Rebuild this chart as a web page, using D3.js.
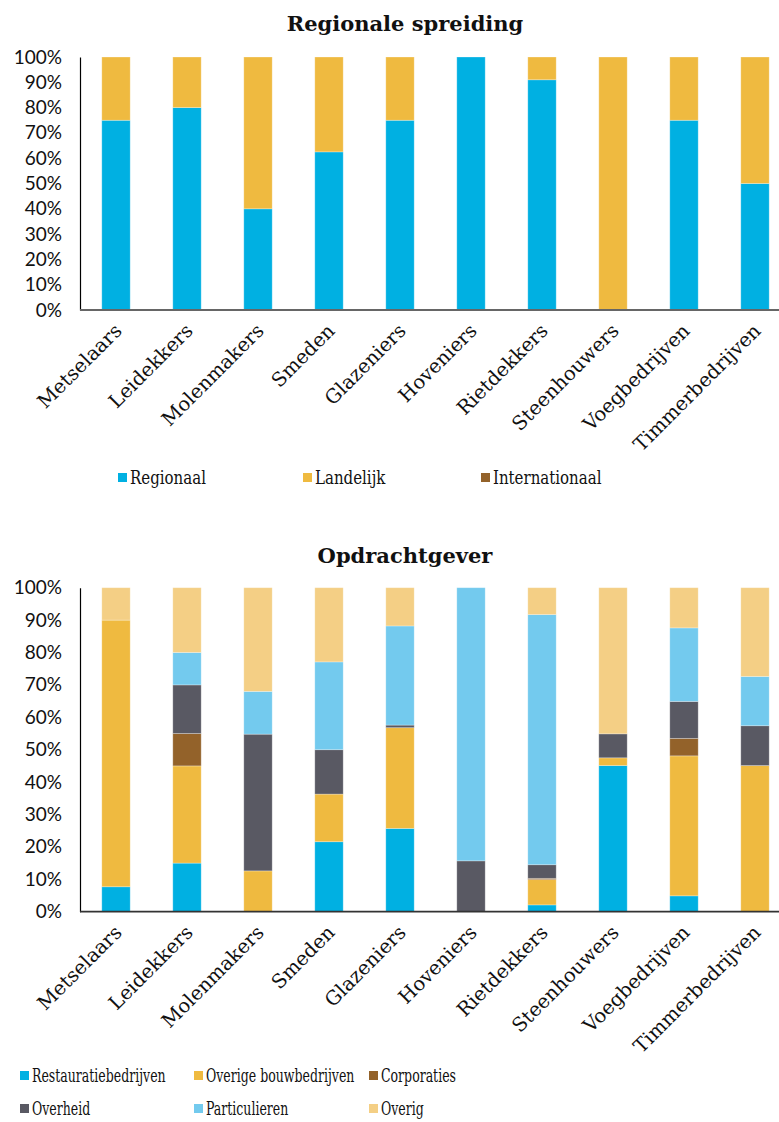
<html lang="nl">
  <head>
    <meta charset="UTF-8" />
    <title>Regionale spreiding / Opdrachtgever</title>
    <script src="https://cdn.jsdelivr.net/npm/d3@7"></script>
    <style>
      * {
        margin: 0;
        padding: 0;
      }
      body {
        background: #fff;
        width: 779px;
        height: 1122px;
        overflow: hidden;
      }
    </style>
  </head>
  <body>
    <svg id="grafiek" width="779" height="1122"></svg>
    <script>
      // beroepen op de x-as
      const beroepen = [
        "Metselaars", "Leidekkers", "Molenmakers", "Smeden", "Glazeniers",
        "Hoveniers", "Rietdekkers", "Steenhouwers", "Voegbedrijven", "Timmerbedrijven"
      ];
      const yTicks = [0, 10, 20, 30, 40, 50, 60, 70, 80, 90, 100];

      // grafiek 1: regionale spreiding (%)
      const regionaal = [75, 80, 40, 62.5, 75, 100, 91, 0, 75, 50];
      const landelijk = [25, 20, 60, 37.5, 25, 0, 9, 100, 25, 50];
      const internationaal = [0, 0, 0, 0, 0, 0, 0, 0, 0, 0];

      // grafiek 2: opdrachtgever (%)
      const restauratiebedrijven = [7.7, 15, 0, 21.6, 25.7, 0, 2.1, 45.1, 4.9, 0];
      const overigeBouw = [82.3, 30, 12.6, 14.7, 31.1, 0, 7.8, 2.4, 43.2, 45.1];
      const corporaties = [0, 10, 0, 0, 0, 0, 0.4, 0, 5.4, 0];
      const overheid = [0, 15, 42.2, 13.7, 0.8, 15.7, 4.2, 7.4, 11.4, 12.3];
      const particulieren = [0, 10, 13.2, 27.1, 30.6, 84.3, 77.2, 0, 22.7, 15.2];
      const overig = [10, 20, 32, 22.9, 11.8, 0, 8.3, 45.1, 12.4, 27.4];

      const svg = d3.select("#grafiek");
      const serif = "'DejaVu Serif', serif";

      function tekenGrafiek(opt) {
        const g = svg.append("g");
        const rows = beroepen.map((b, i) => {
          const r = { beroep: b };
          opt.reeksen.forEach((s) => (r[s.naam] = s.waarden[i]));
          return r;
        });
        const stack = d3.stack().keys(opt.reeksen.map((s) => s.naam));
        const lagen = stack(rows);

        const x = d3.scaleBand().domain(beroepen).range([80.5, 790.5]).paddingInner(0.6).paddingOuter(0.3);
        const y = d3.scaleLinear().domain([0, 100]).range([opt.bodem, opt.top]);

        // titel
        g.append("text")
          .attr("x", 405)
          .attr("y", opt.titelY)
          .attr("text-anchor", "middle")
          .style("font-family", serif)
          .style("font-size", "21px")
          .style("font-weight", "bold")
          .attr("fill", "#111")
          .text(opt.titel);

        // balken
        g.selectAll(".laag")
          .data(lagen)
          .enter()
          .append("g")
          .attr("fill", (d, i) => opt.reeksen[i].kleur)
          .selectAll("rect")
          .data((d) => d)
          .enter()
          .append("rect")
          .attr("x", (d) => x(d.data.beroep))
          .attr("width", x.bandwidth())
          .attr("y", (d) => y(d[1]))
          .attr("height", (d) => Math.max(0, y(d[0]) - y(d[1])))
          .attr("stroke", "#fff")
          .attr("stroke-opacity", 0.35)
          .attr("stroke-width", 0.8);

        // y-as
        const yAs = g.append("g")
          .attr("transform", "translate(80,0)")
          .call(d3.axisLeft(y).tickValues(yTicks).tickSize(0).tickPadding(18).tickFormat((d) => d + "%"));
        yAs.select(".domain").attr("stroke", "#000").attr("stroke-width", 1.2);
        yAs.selectAll("text")
          .style("font-family", "Lato, sans-serif")
          .style("font-size", "19px")
          .attr("fill", "#111");

        // x-as
        const xAs = g.append("g")
          .attr("transform", `translate(0,${opt.bodem})`)
          .call(d3.axisBottom(x).tickSize(0).tickPadding(0));
        xAs.select(".domain").remove();
        xAs.append("line")
          .attr("x1", 80).attr("x2", 779)
          .attr("stroke", opt.asKleur).attr("stroke-width", 1.8);
        xAs.selectAll(".tick text")
          .attr("text-anchor", "end")
          .attr("dy", null)
          .attr("y", 0)
          .attr("transform", "translate(7,22) rotate(-45)")
          .style("font-family", serif)
          .style("font-size", "19.5px")
          .attr("fill", "#111");

        // legenda
        const leg = g.selectAll(".leg")
          .data(opt.reeksen)
          .enter()
          .append("g")
          .attr("transform", (d, i) => {
            const p = opt.legPos[i];
            return `translate(${p[0]},${p[1]})`;
          });
        leg.append("rect")
          .attr("x", 0).attr("y", -11)
          .attr("width", 9).attr("height", 9)
          .attr("fill", (d) => d.kleur);
        leg.append("text")
          .attr("transform", `translate(12,0) scale(${opt.legSchaal},1)`)
          .style("font-family", serif)
          .style("font-size", "19px")
          .attr("fill", "#111")
          .text((d) => d.naam);
      }

      tekenGrafiek({
        titel: "Regionale spreiding",
        titelY: 31,
        top: 57,
        bodem: 310,
        asKleur: "#666",
        legSchaal: 0.79,
        reeksen: [
          { naam: "Regionaal", waarden: regionaal, kleur: "#00b0e2" },
          { naam: "Landelijk", waarden: landelijk, kleur: "#efba40" },
          { naam: "Internationaal", waarden: internationaal, kleur: "#93622a" }
        ],
        legPos: [[118, 484], [303, 484], [481, 484]]
      });

      tekenGrafiek({
        titel: "Opdrachtgever",
        titelY: 563,
        top: 587.7,
        bodem: 911.7,
        asKleur: "#333",
        legSchaal: 0.66,
        reeksen: [
          { naam: "Restauratiebedrijven", waarden: restauratiebedrijven, kleur: "#00b0e2" },
          { naam: "Overige bouwbedrijven", waarden: overigeBouw, kleur: "#efba40" },
          { naam: "Corporaties", waarden: corporaties, kleur: "#93622a" },
          { naam: "Overheid", waarden: overheid, kleur: "#595963" },
          { naam: "Particulieren", waarden: particulieren, kleur: "#73caee" },
          { naam: "Overig", waarden: overig, kleur: "#f4cf85" }
        ],
        legPos: [[20, 1082], [194, 1082], [369, 1082], [20, 1115], [194, 1115], [369, 1115]]
      });
    </script>
  </body>
</html>
